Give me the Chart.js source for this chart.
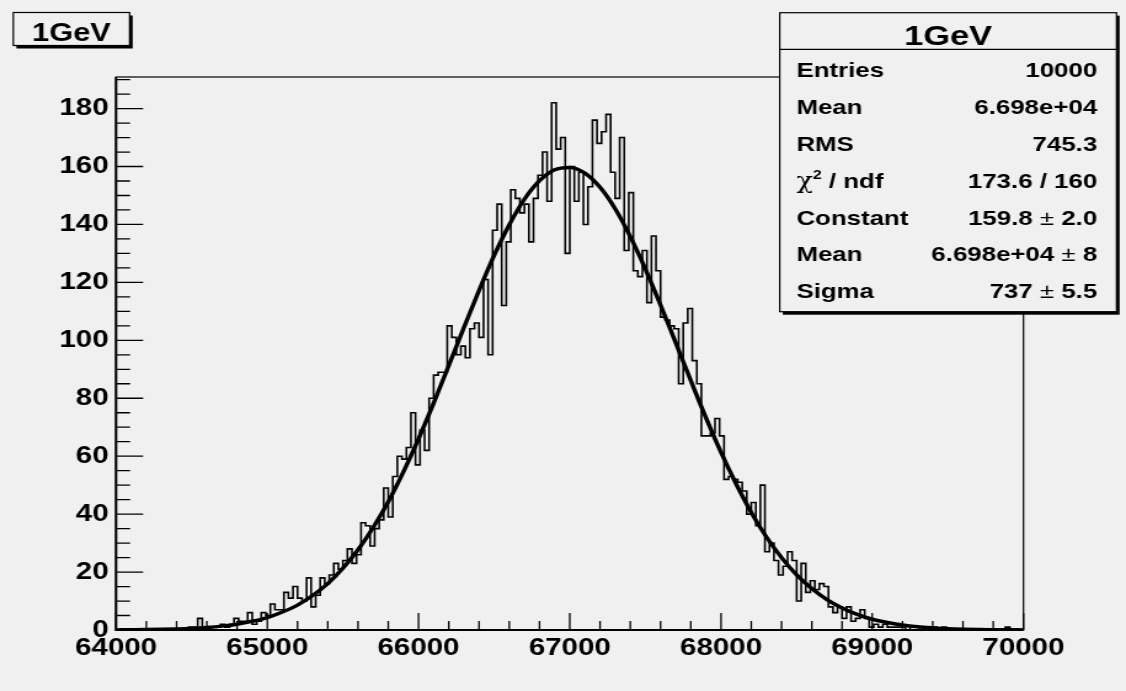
<!DOCTYPE html>
<html>
<head>
<meta charset="utf-8">
<script src="https://cdn.jsdelivr.net/npm/chart.js@4.4.1/dist/chart.umd.min.js"></script>
<style>
  html, body { margin: 0; padding: 0; background: #f0f0f0; overflow: hidden; }
  #c { display: block; }
</style>
</head>
<body>
<!-- the original picture is stretched sideways, so the canvas is drawn narrow and widened by CSS -->
<canvas id="c" width="915" height="691" style="width:1126px;height:691px"></canvas>
<script>
const xMin = 64000;
const xMax = 70000;
const binWidth = 30;

// 200 bins of 30 from 64000 to 70000
const binCounts = [
  0, 0, 0, 0, 0, 0, 0, 0, 0, 0, 0, 0, 0, 0, 0, 0, 1, 1, 4, 1,
  0, 1, 1, 2, 1, 2, 4, 3, 3, 6, 2, 3, 6, 5, 9, 7, 7, 13, 11, 15,
  11, 10, 18, 8, 12, 18, 16, 19, 23, 21, 24, 28, 23, 26, 37, 36, 29, 35, 38, 49,
  39, 53, 60, 59, 63, 75, 57, 69, 62, 80, 88, 89, 89, 105, 101, 95, 98, 94, 104, 106,
  101, 121, 95, 138, 147, 112, 134, 152, 149, 144, 147, 134, 149, 157, 165, 148, 182, 166, 170, 130,
  160, 148, 158, 140, 153, 176, 168, 172, 178, 158, 149, 170, 131, 151, 124, 122, 131, 113, 136, 124,
  108, 107, 105, 104, 85, 106, 111, 93, 85, 67, 67, 68, 73, 67, 52, 53, 52, 51, 48, 40,
  44, 36, 50, 27, 30, 24, 19, 22, 27, 24, 10, 23, 13, 17, 14, 16, 15, 8, 6, 8,
  4, 8, 3, 4, 7, 4, 1, 2, 1, 2, 1, 1, 1, 1, 0, 1, 1, 0, 1, 0,
  1, 0, 1, 0, 0, 0, 0, 0, 0, 0, 0, 0, 0, 0, 0, 0, 1, 0, 0, 0
];

// fitted gaussian as drawn, one value every 100 from 64000
const fitStep = 100;
const fitValues = [
  0.04, 0.08, 0.13, 0.22, 0.35, 0.55, 0.87, 1.34, 2.0, 3.0,
  4.3, 6.2, 8.6, 11.9, 16.0, 21.3, 27.7, 35.4, 44.3, 54.6,
  66.0, 78.3, 91.3, 104.4, 117.2, 129.3, 139.9, 148.7, 155.1, 158.9,
  159.7, 157.7, 152.8, 145.4, 135.8, 124.6, 112.2, 99.2, 86.1, 73.3,
  61.3, 50.4, 40.6, 32.1, 25.0, 19.0, 14.3, 10.5, 7.6, 5.4,
  3.7, 2.6, 1.7, 1.1, 0.73, 0.46, 0.29, 0.18, 0.11, 0.06, 0.04
];

const xTicks = [64000, 65000, 66000, 67000, 68000, 69000, 70000];
const yTicks = [0, 20, 40, 60, 80, 100, 120, 140, 160, 180];
const xMinorStep = 200;
const yMinorStep = 5;
const yMax = 190.9;

const histTitle = '1GeV';
const statNames = ['Entries', 'Mean', 'RMS', 'χ2 / ndf', 'Constant', 'Mean', 'Sigma'];
const statValues = ['10000', '6.698e+04', '745.3', '173.6 / 160', '159.8 ± 2.0', '6.698e+04 ± 8', '737 ± 5.5'];

const histPoints = binCounts.map((c, i) => ({ x: xMin + i * binWidth, y: c }));
histPoints.push({ x: xMax, y: binCounts[binCounts.length - 1] });
const fitPoints = fitValues.map((v, i) => ({ x: xMin + i * fitStep, y: v }));

const FONT = "'Liberation Sans', Arial, Helvetica, sans-serif";
const W = 915, H = 691;

function drawParts(ctx, parts, x, y, align) {
  let w = 0;
  parts.forEach(p => { ctx.font = p.font; w += ctx.measureText(p.text).width; });
  let cx = align === 'right' ? x - w : x;
  parts.forEach(p => {
    ctx.font = p.font;
    ctx.fillText(p.text, cx, y + (p.dy || 0));
    cx += ctx.measureText(p.text).width;
  });
}

function textParts(s) {
  const bold = 'bold 21px ' + FONT;
  if (s.startsWith('χ2')) {
    return [
      { text: 'χ', font: "22px 'DejaVu Serif', serif" },
      { text: '2', font: 'bold 13px ' + FONT, dy: -9 },
      { text: s.slice(2), font: bold }
    ];
  }
  if (s.includes('±')) {
    const [a, b] = s.split('±');
    return [
      { text: a.trim(), font: bold },
      { text: ' ± ', font: '21px ' + FONT },
      { text: b.trim(), font: bold }
    ];
  }
  return [{ text: s, font: bold }];
}

function shadowBox(ctx, x, y, w, h) {
  ctx.fillStyle = '#000';
  ctx.fillRect(x + 2.5, y + 3, w, h);
  ctx.fillStyle = '#f0f0f0';
  ctx.fillRect(x, y, w, h);
  ctx.strokeStyle = '#000';
  ctx.lineWidth = 1.2;
  ctx.strokeRect(x, y, w, h);
}

const rootFrame = {
  id: 'rootFrame',
  afterDatasetsDraw(chart) {
    const ctx = chart.ctx;
    const a = chart.chartArea;
    const xs = chart.scales.x, ys = chart.scales.y;
    ctx.save();
    ctx.strokeStyle = '#000';
    // ticks point into the frame
    ctx.lineWidth = 1.3;
    ctx.beginPath();
    for (let v = xMin; v <= xMax; v += xMinorStep) {
      const px = xs.getPixelForValue(v);
      const len = xTicks.includes(v) ? 17 : 9;
      ctx.moveTo(px, a.bottom);
      ctx.lineTo(px, a.bottom - len);
    }
    for (let v = 0; v <= yMax; v += yMinorStep) {
      const py = ys.getPixelForValue(v);
      const len = yTicks.includes(v) ? 22 : 11.4;
      ctx.moveTo(a.left, py);
      ctx.lineTo(a.left + len, py);
    }
    ctx.stroke();
    ctx.lineWidth = 1.2;
    ctx.strokeRect(a.left, a.top, a.right - a.left, a.bottom - a.top);
    ctx.lineWidth = 2;
    ctx.beginPath();
    ctx.moveTo(a.left, a.top);
    ctx.lineTo(a.left, a.bottom);
    ctx.lineTo(a.right, a.bottom);
    ctx.stroke();
    ctx.restore();
  },
  afterDraw(chart) {
    const ctx = chart.ctx;
    ctx.save();
    ctx.textBaseline = 'alphabetic';

    // title pave
    shadowBox(ctx, 10.8, 12.5, 94.5, 33);
    ctx.fillStyle = '#000';
    ctx.textAlign = 'center';
    ctx.font = 'bold 25px ' + FONT;
    ctx.fillText(histTitle, 58, 40.5);

    // stats box
    const bx = 633.6, by = 12.7, bw = 273.7, bh = 299;
    shadowBox(ctx, bx, by, bw, bh);
    ctx.lineWidth = 1.2;
    ctx.beginPath();
    ctx.moveTo(bx, 49.3);
    ctx.lineTo(bx + bw, 49.3);
    ctx.stroke();
    ctx.fillStyle = '#000';
    ctx.textAlign = 'center';
    ctx.font = 'bold 28px ' + FONT;
    ctx.fillText(histTitle, bx + bw / 2, 45);
    ctx.textAlign = 'left';
    statNames.forEach((name, i) => {
      const y = 77.3 + i * 36.83;
      drawParts(ctx, textParts(name), 647.2, y, 'left');
      drawParts(ctx, textParts(statValues[i]), 891.6, y, 'right');
    });
    ctx.restore();
  }
};

new Chart(document.getElementById('c'), {
  type: 'line',
  data: {
    datasets: [
      {
        label: 'fit',
        data: fitPoints,
        borderColor: '#000',
        borderWidth: 3.5,
        pointRadius: 0,
        fill: false,
        cubicInterpolationMode: 'monotone',
        order: 0
      },
      {
        label: histTitle,
        data: histPoints,
        borderColor: '#000',
        borderWidth: 1.6,
        pointRadius: 0,
        fill: false,
        stepped: true,
        order: 1
      }
    ]
  },
  options: {
    responsive: false,
    devicePixelRatio: 1,
    animation: false,
    layout: { padding: { top: 77, right: W - 831.7, left: 0, bottom: 0 } },
    plugins: { legend: { display: false }, tooltip: { enabled: false } },
    scales: {
      x: {
        type: 'linear',
        min: xMin,
        max: xMax,
        afterBuildTicks: s => { s.ticks = xTicks.map(v => ({ value: v })); },
        afterFit: s => { s.height = H - 630; },
        grid: { display: false, drawTicks: false },
        border: { display: false },
        ticks: {
          autoSkip: false, maxRotation: 0, padding: 4, color: '#000',
          font: { family: FONT, size: 24, weight: 'bold' },
          callback: v => String(v)
        }
      },
      y: {
        type: 'linear',
        min: 0,
        max: yMax,
        afterBuildTicks: s => { s.ticks = yTicks.map(v => ({ value: v })); },
        afterFit: s => { s.width = 94.3; },
        grid: { display: false, drawTicks: false },
        border: { display: false },
        ticks: {
          autoSkip: false, padding: 6, color: '#000',
          font: { family: FONT, size: 24, weight: 'bold' },
          callback: v => String(v)
        }
      }
    }
  },
  plugins: [rootFrame]
});
</script>
</body>
</html>
